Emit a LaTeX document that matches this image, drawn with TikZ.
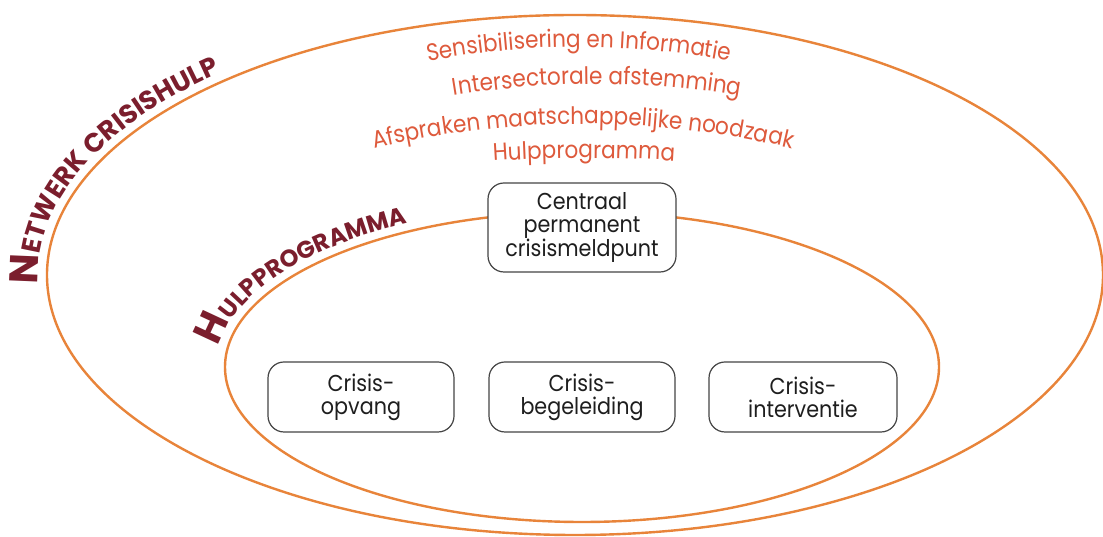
\documentclass[tikz,border=0pt]{standalone}
\usepackage{fontspec}
\setmainfont{Poppins}
\newfontfamily\geofont{Poppins}[FakeStretch=0.9]
\newfontfamily\lblfont{Poppins}
\usetikzlibrary{decorations.text}
\definecolor{ringorange}{HTML}{E8843A}
\definecolor{lblred}{HTML}{7B1E2D}
\definecolor{topred}{HTML}{DE5A3C}
\definecolor{boxgray}{HTML}{454545}
\definecolor{txtgray}{HTML}{1E1E1E}
\newcommand\lblbig{\lblfont\bfseries\fontsize{40}{40}\selectfont}
\newcommand\lblsmall{\lblfont\bfseries\fontsize{26.5}{26.5}\selectfont}
\newcommand\lblsmallb{\lblfont\bfseries\fontsize{24}{24}\selectfont}
\newcommand\topfont{\geofont\fontsize{24}{24}\selectfont}
\tikzset{
  ring/.style={draw=ringorange, line width=2.4pt},
  stepbox/.style={draw=boxgray, line width=1.2pt, fill=white, rounded corners=16pt,
    align=center, inner sep=0pt, text=txtgray,
    font=\geofont\fontsize{23}{23}\selectfont},
  curvelbl/.style={decorate, decoration={text along path, text align=left,
    text color=lblred, text={#1}}},
  toptext/.style={decorate, decoration={text along path, text align=center,
    text color=topred, text={|\topfont|#1}}}
}
\begin{document}
\begin{tikzpicture}[x=1pt,y=1pt]
\useasboundingbox[fill=white] (0,0) rectangle (1103,537);
% rings
\draw[ring] (575,262) ellipse[x radius=528, y radius=260];
\draw[ring] (582,170) ellipse[x radius=357, y radius=155];
% curved labels
\path[curvelbl={|\lblbig|N|\lblsmall|ETWERK CRISISHULP}]
  ([shift={(182:537 and 269)}]575,262) arc[start angle=182, end angle=85, x radius=537, y radius=269];
\path[curvelbl={|\lblbig|H|\lblsmallb|ULPPROGRAMMA}]
  ([shift={(173:366 and 164)}]582,170) arc[start angle=173, end angle=85, x radius=366, y radius=164];
% top texts
\path[toptext={Sensibilisering en Informatie}]
  ([shift={(106:800)}]579,-310) arc[start angle=106, end angle=74, radius=800];
\path[toptext={Intersectorale afstemming}]
  ([shift={(105:880)}]597,-427) arc[start angle=105, end angle=75, radius=880];
\path[toptext={Afspraken maatschappelijke noodzaak}]
  ([shift={(108:900)}]583,-487) arc[start angle=108, end angle=72, radius=900];
\path[toptext={Hulpprogramma}]
  ([shift={(98:1400)}]584,-1021) arc[start angle=98, end angle=82, radius=1400];
% boxes
\node[stepbox, minimum width=188pt, minimum height=89pt] (centraal) at (582,309.5) {Centraal\\permanent\\crisismeldpunt};
\node[stepbox, minimum width=186pt, minimum height=70pt] (opvang) at (361,140) {Crisis-\\opvang};
\node[stepbox, minimum width=186pt, minimum height=70pt] (begeleiding) at (582,140) {Crisis-\\begeleiding};
\node[stepbox, minimum width=188pt, minimum height=70pt] (interventie) at (803,140) {Crisis-\\interventie};
\end{tikzpicture}
\end{document}
